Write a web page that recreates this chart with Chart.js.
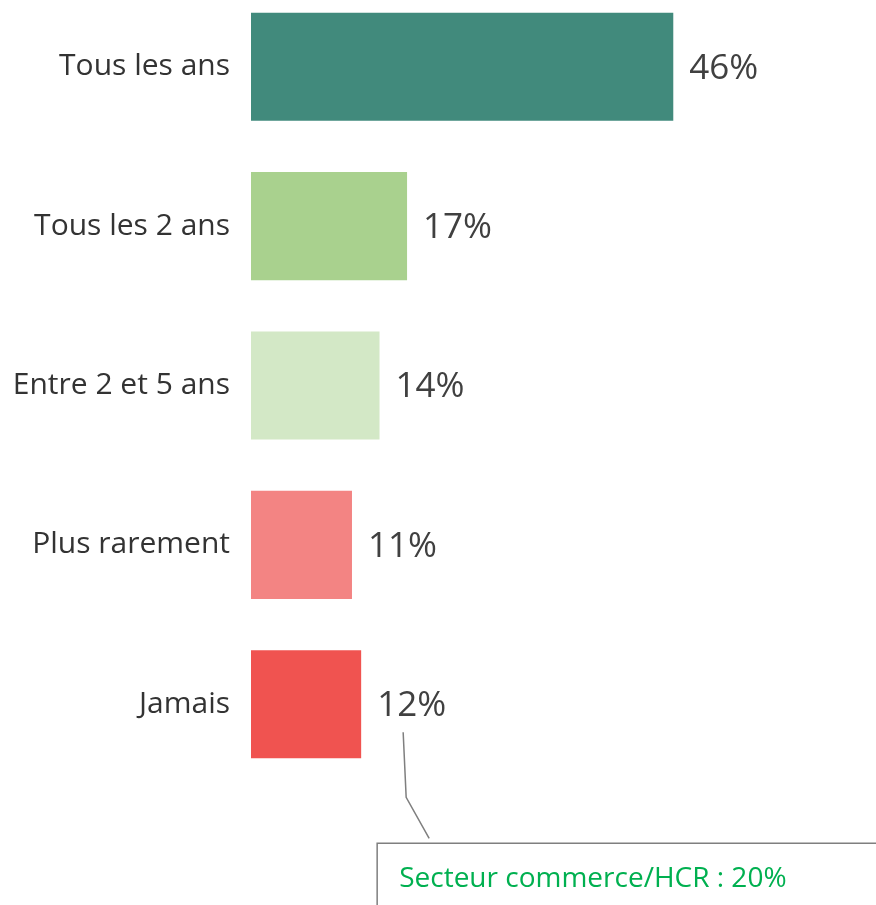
<!DOCTYPE html>
<html>
<head>
<meta charset="utf-8">
<script src="https://cdn.jsdelivr.net/npm/chart.js@4.4.1/dist/chart.umd.min.js"></script>
<style>
  html, body { margin: 0; padding: 0; background: #fff; overflow: hidden; }
  #wrap { position: absolute; left: 0; top: -44px; width: 876px; height: 949px; }
</style>
</head>
<body>
<div id="wrap"><canvas id="freqChart"></canvas></div>
<script>
// Chart data
const categories = ['Tous les ans', 'Tous les 2 ans', 'Entre 2 et 5 ans', 'Plus rarement', 'Jamais'];
const values = [46, 17, 14, 11, 12];
const barColors = ['#418A7C', '#A9D18E', '#D3E8C6', '#F38483', '#F05350'];
const noteText = 'Secteur commerce/HCR : 20%';
const noteIndex = 4;

/**
 * Value labels at the end of each bar
 */
const valueLabels = {
    id: 'valueLabels',
    afterDatasetsDraw(chart) {
        const ctx = chart.ctx;
        const meta = chart.getDatasetMeta(0);
        ctx.save();
        ctx.font = '35px "Open Sans"';
        ctx.fillStyle = '#404040';
        ctx.textAlign = 'left';
        ctx.textBaseline = 'middle';
        meta.data.forEach((bar, i) => {
            ctx.fillText(values[i] + '%', bar.x + 16, bar.y + 2);
        });
        ctx.restore();
    }
};

/**
 * Callout box with leader line under the last bar
 */
const callout = {
    id: 'callout',
    afterDraw(chart) {
        const ctx = chart.ctx;
        const bar = chart.getDatasetMeta(0).data[noteIndex];
        const x0 = bar.x;
        const y0 = bar.y;
        ctx.save();
        ctx.strokeStyle = '#7F7F7F';
        ctx.lineWidth = 1.5;
        ctx.beginPath();
        ctx.moveTo(x0 + 42, y0 + 28);
        ctx.lineTo(x0 + 45, y0 + 93);
        ctx.lineTo(x0 + 68, y0 + 134);
        ctx.stroke();

        ctx.beginPath();
        ctx.moveTo(x0 + 16, chart.height + 5);
        ctx.lineTo(x0 + 16, y0 + 139);
        ctx.lineTo(chart.width + 5, y0 + 139);
        ctx.stroke();

        ctx.font = '28px "Open Sans"';
        ctx.fillStyle = '#00B050';
        ctx.textAlign = 'left';
        ctx.textBaseline = 'alphabetic';
        ctx.fillText(noteText, x0 + 38, y0 + 183);
        ctx.restore();
    }
};

new Chart(document.getElementById('freqChart'), {
    type: 'bar',
    data: {
        labels: categories,
        datasets: [{
            data: values,
            backgroundColor: barColors,
            borderWidth: 0,
            categoryPercentage: 1,
            barPercentage: 0.678
        }]
    },
    plugins: [valueLabels, callout],
    options: {
        indexAxis: 'y',
        responsive: true,
        maintainAspectRatio: false,
        animation: false,
        layout: {
            padding: { left: 0, right: 166, top: 31, bottom: 121 }
        },
        plugins: {
            legend: { display: false },
            tooltip: { enabled: false }
        },
        scales: {
            x: {
                display: false,
                min: 0,
                max: 50
            },
            y: {
                grid: { display: false },
                border: { display: false },
                ticks: {
                    padding: 13,
                    color: '#333333',
                    font: { family: 'Open Sans', size: 30 }
                },
                afterFit(scale) {
                    scale.width = 251;
                }
            }
        }
    }
});
</script>
</body>
</html>
